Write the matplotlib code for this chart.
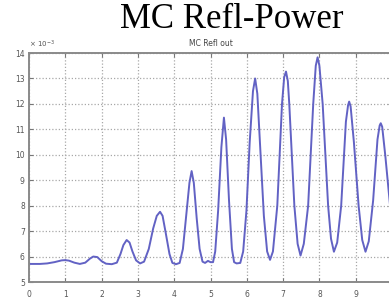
import matplotlib
matplotlib.use("Agg")
import matplotlib.pyplot as plt

# Data (y in units of 1e-3)
x_vals = [0, 0.3, 0.5, 0.7, 0.9, 1.0, 1.1, 1.25, 1.4, 1.55, 1.68, 1.77, 1.88, 2.0,
          2.12, 2.28, 2.42, 2.52, 2.6, 2.69, 2.77, 2.85, 2.95, 3.06, 3.17, 3.3,
          3.42, 3.52, 3.61, 3.68, 3.77, 3.87, 3.95, 4.05, 4.15, 4.24, 4.33, 4.42,
          4.48, 4.54, 4.62, 4.7, 4.78, 4.85, 4.93, 5.0, 5.07, 5.13, 5.21, 5.3,
          5.37, 5.43, 5.51, 5.59, 5.65, 5.72, 5.82, 5.9, 5.99, 6.08, 6.17, 6.23,
          6.29, 6.38, 6.47, 6.56, 6.64, 6.72, 6.84, 6.97, 7.03, 7.08, 7.13, 7.17,
          7.31, 7.4, 7.48, 7.57, 7.69, 7.83, 7.9, 7.95, 8.0, 8.09, 8.24, 8.32,
          8.4, 8.49, 8.6, 8.73, 8.79, 8.82, 8.86, 8.95, 9.08, 9.18, 9.27, 9.36,
          9.48, 9.6, 9.66, 9.69, 9.73, 9.82, 9.92, 10.0]
refl_e3 = [5.71, 5.71, 5.73, 5.78, 5.85, 5.86, 5.84, 5.76, 5.71, 5.76, 5.92, 6.00,
           5.98, 5.82, 5.72, 5.70, 5.76, 6.10, 6.45, 6.65, 6.55, 6.20, 5.85, 5.73,
           5.80, 6.30, 7.10, 7.60, 7.76, 7.60, 6.90, 6.10, 5.75, 5.70, 5.75, 6.30,
           7.60, 8.90, 9.36, 8.90, 7.50, 6.30, 5.80, 5.75, 5.83, 5.78, 5.78, 6.20,
           7.80, 10.30, 11.46, 10.60, 8.20, 6.30, 5.78, 5.73, 5.75, 6.20, 7.80,
           10.50, 12.50, 13.00, 12.40, 10.00, 7.60, 6.20, 5.87, 6.20, 8.00, 12.00,
           13.05, 13.27, 12.90, 12.00, 8.00, 6.50, 6.04, 6.50, 8.00, 12.00, 13.50,
           13.83, 13.50, 12.00, 8.00, 6.70, 6.19, 6.55, 8.00, 11.30, 11.95, 12.09,
           11.90, 10.50, 8.00, 6.65, 6.19, 6.60, 8.20, 10.60, 11.15, 11.24, 11.10,
           9.90, 8.40, 7.20]
x_ticks = [0, 1, 2, 3, 4, 5, 6, 7, 8, 9]
y_ticks = [5, 6, 7, 8, 9, 10, 11, 12, 13, 14]

W, H = 389, 298
fig = plt.figure(figsize=(W / 100, H / 100), dpi=100)
fig.patch.set_facecolor("white")

left, right, bottom, top = 29, 392, 282, 53
ax = fig.add_axes([left / W, (H - bottom) / H, (right - left) / W, (bottom - top) / H])
ax.plot(x_vals, refl_e3, color="#6262c4", linewidth=1.4,
        solid_joinstyle="round", solid_capstyle="round")
ax.set_xlim(0, 10)
ax.set_ylim(5, 14)
ax.set_xticks(x_ticks)
ax.set_yticks(y_ticks)
ax.grid(True, linestyle=(0, (1, 1.6)), color="#a8a8a8", linewidth=0.9)
ax.tick_params(direction="in", length=3, width=0.8, colors="#777777",
               labelsize=5.5, labelcolor="#555555", top=True, right=True)
ax.tick_params(axis="x", pad=6)
ax.tick_params(axis="y", pad=3)
for s in ax.spines.values():
    s.set_color("#8a8a8a")
    s.set_linewidth(1.4)

ax.set_title("MC Refl out", fontsize=5.5, color="#444444", pad=5)
ax.text(0.0, 1.012, "× 10$^{-3}$", transform=ax.transAxes, fontsize=5,
        color="#555555", ha="left", va="bottom")

fig.text(232 / W, 1 - 19 / H, "MC Refl-Power", family="Liberation Serif",
         fontsize=25, ha="center", va="center", color="black")

fig.savefig("out.png", dpi=100)
